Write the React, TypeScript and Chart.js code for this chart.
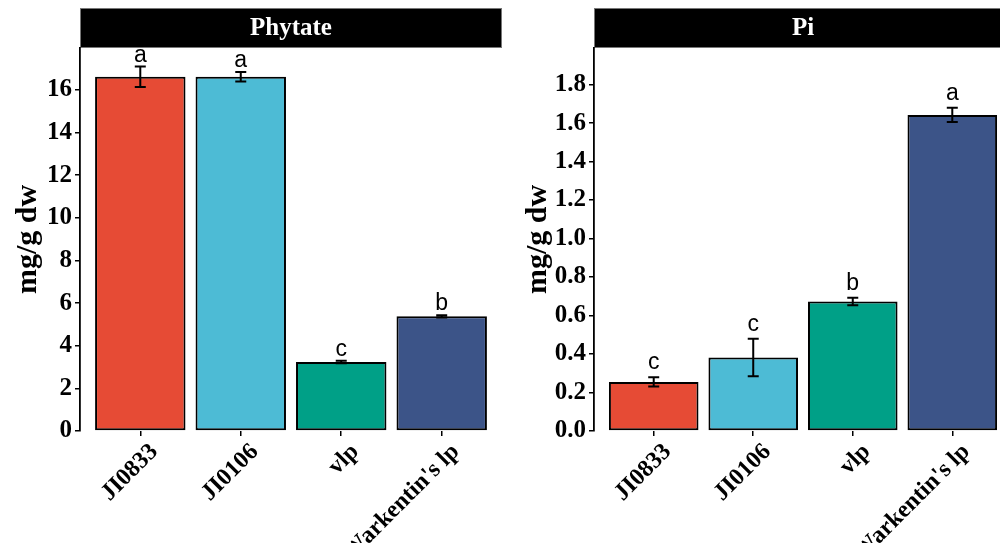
import React, { useEffect, useRef } from "react";
import { Chart, registerables } from "chart.js";

Chart.register(...registerables);

const categories = ["JI0833", "JI0106", "vlp", "Warkentin's lp"];
const barColors = ["#E64B35", "#4DBBD5", "#00A087", "#3C5488"];

const phytateMean = [16.62, 16.62, 3.24, 5.38];
const phytateErr = [0.48, 0.22, 0.06, 0.05];
const phytateLetters = ["a", "a", "c", "b"];
const phytateTicks = [0, 2, 4, 6, 8, 10, 12, 14, 16];

const piMean = [0.255, 0.382, 0.673, 1.642];
const piErr = [0.024, 0.097, 0.019, 0.037];
const piLetters = ["c", "c", "b", "a"];
const piTicks = [0, 0.2, 0.4, 0.6, 0.8, 1.0, 1.2, 1.4, 1.6, 1.8];

const SERIF = '"Liberation Serif", "Times New Roman", serif';
const SANS = '"Liberation Sans", Arial, sans-serif';

const decoPlugin = {
  id: "deco",
  beforeDraw(chart: any, _args: any, opts: any) {
    const { ctx, chartArea } = chart;
    ctx.save();
    ctx.fillStyle = "#000";
    ctx.fillRect(chartArea.left, 8, chartArea.right - chartArea.left, 40);
    ctx.strokeStyle = "#777";
    ctx.lineWidth = 1;
    ctx.strokeRect(chartArea.left + 0.5, 8.5, chartArea.right - chartArea.left - 1, 39);
    ctx.fillStyle = "#fff";
    ctx.font = `bold 25px ${SERIF}`;
    ctx.textAlign = "center";
    ctx.textBaseline = "middle";
    ctx.fillText(opts.title, (chartArea.left + chartArea.right) / 2, 29);
    ctx.restore();
  },
  afterDatasetsDraw(chart: any, _args: any, opts: any) {
    const { ctx } = chart;
    const xs = chart.scales.x;
    const ys = chart.scales.y;
    const means: number[] = opts.means;
    const errs: number[] = opts.errs;
    const letters: string[] = opts.letters;
    ctx.save();
    ctx.strokeStyle = "#000";
    ctx.lineWidth = 2;
    means.forEach((m, i) => {
      const x = xs.getPixelForValue(i + 1);
      const yTop = ys.getPixelForValue(m + errs[i]);
      const yBot = ys.getPixelForValue(m - errs[i]);
      ctx.beginPath();
      ctx.moveTo(x, yTop);
      ctx.lineTo(x, yBot);
      ctx.moveTo(x - 5.5, yTop);
      ctx.lineTo(x + 5.5, yTop);
      ctx.moveTo(x - 5.5, yBot);
      ctx.lineTo(x + 5.5, yBot);
      ctx.stroke();
      ctx.fillStyle = "#000";
      ctx.font = `23px ${SANS}`;
      ctx.textAlign = "center";
      ctx.textBaseline = "alphabetic";
      ctx.fillText(letters[i], x, yTop - opts.gap);
    });
    ctx.restore();
  },
};

type PanelProps = {
  title: string;
  means: number[];
  errs: number[];
  letters: string[];
  ticks: number[];
  yMax: number;
  decimals: number;
  yWidth: number;
  padRight: number;
  width: number;
  left: number;
  gap: number;
};

function Panel(p: PanelProps) {
  const ref = useRef<HTMLCanvasElement>(null);
  useEffect(() => {
    if (!ref.current) return;
    const chart = new Chart(ref.current, {
      type: "bar",
      data: {
        datasets: [
          {
            data: p.means.map((v, i) => ({ x: i + 1, y: v })),
            backgroundColor: barColors,
            borderColor: "#000",
            borderWidth: 2,
            borderSkipped: false,
            categoryPercentage: 1,
            barPercentage: 0.9,
          },
        ],
      },
      options: {
        animation: false,
        responsive: false,
        devicePixelRatio: 1,
        layout: { padding: { top: 48, right: p.padRight, bottom: 0, left: 0 } },
        plugins: {
          legend: { display: false },
          tooltip: { enabled: false },
          deco: { title: p.title, means: p.means, errs: p.errs, letters: p.letters, gap: p.gap },
        } as any,
        scales: {
          x: {
            type: "linear",
            min: 0.4,
            max: 4.6,
            offset: false,
            afterBuildTicks: (s: any) => {
              s.ticks = categories.map((_, i) => ({ value: i + 1 }));
            },
            afterFit: (s: any) => {
              s.height = 112;
            },
            grid: {
              display: true,
              offset: false,
              drawOnChartArea: false,
              drawTicks: true,
              tickLength: 5,
              color: "#000",
              lineWidth: 1.5,
            },
            border: { display: false },
            ticks: {
              autoSkip: false,
              minRotation: 45,
              maxRotation: 45,
              padding: 2,
              labelOffset: 14,
              color: "#000",
              font: { family: SERIF, size: 24, weight: "bold" },
              callback: (v: any) => categories[Math.round(Number(v)) - 1] ?? "",
            },
          },
          y: {
            type: "linear",
            min: 0,
            max: p.yMax,
            afterBuildTicks: (s: any) => {
              s.ticks = p.ticks.map((v) => ({ value: v }));
            },
            afterFit: (s: any) => {
              s.width = p.yWidth;
            },
            grid: {
              display: true,
              drawOnChartArea: false,
              drawTicks: true,
              tickLength: 5,
              color: "#000",
              lineWidth: 1.5,
            },
            border: { display: true, color: "#000", width: 1.8 },
            ticks: {
              color: "#000",
              padding: 3,
              font: { family: SERIF, size: 25, weight: "bold" },
              callback: (v: any) => Number(v).toFixed(p.decimals),
            },
            title: {
              display: true,
              text: "mg/g dw",
              color: "#000",
              font: { family: SERIF, size: 30, weight: "bold" },
              padding: { top: 10, bottom: 0 },
            },
          },
        },
      } as any,
      plugins: [decoPlugin as any],
    });
    return () => chart.destroy();
  }, []);
  return (
    <div style={{ position: "absolute", left: p.left, top: 0, width: p.width, height: 543 }}>
      <canvas ref={ref} width={p.width} height={543} style={{ display: "block" }} />
    </div>
  );
}

export default function App() {
  return (
    <div
      style={{
        position: "fixed",
        left: 0,
        top: 0,
        width: 1000,
        height: 543,
        overflow: "hidden",
        background: "#fff",
      }}
    >
      <Panel
        title="Phytate"
        means={phytateMean}
        errs={phytateErr}
        letters={phytateLetters}
        ticks={phytateTicks}
        yMax={17.97}
        decimals={0}
        yWidth={80}
        padRight={8}
        width={510}
        left={0}
        gap={5}
      />
      <Panel
        title="Pi"
        means={piMean}
        errs={piErr}
        letters={piLetters}
        ticks={piTicks}
        yMax={1.99}
        decimals={1}
        yWidth={84}
        padRight={18}
        width={520}
        left={510}
        gap={8}
      />
    </div>
  );
}
